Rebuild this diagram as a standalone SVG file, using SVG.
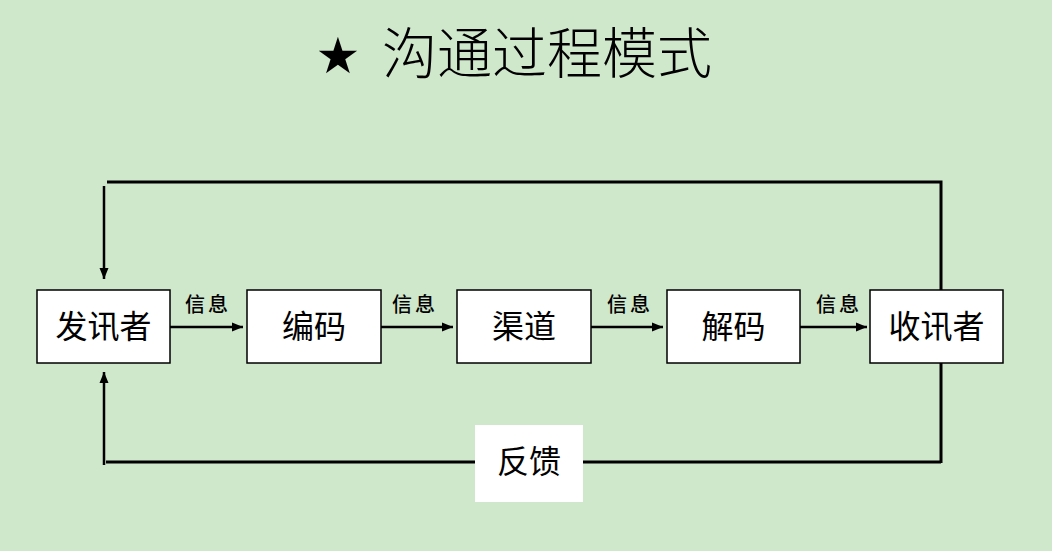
<svg xmlns="http://www.w3.org/2000/svg" width="1052" height="551" viewBox="0 0 1052 551">
<defs>
<marker id="ah" markerUnits="userSpaceOnUse" markerWidth="12" markerHeight="12" refX="11" refY="6" orient="auto">
<path d="M0,1.5 L11,6 L0,10.5 Z" fill="#000"/>
</marker>
<style>
.bg{fill:#cfe7cb}
.box{fill:#fff;stroke:#000;stroke-width:1.5}
.ln{stroke:#000;stroke-width:3;fill:none}
.ar{stroke:#000;stroke-width:2.5;fill:none;marker-end:url(#ah)}
.nt{font-family:"Noto Sans CJK SC",sans-serif;font-size:32px;text-anchor:middle;fill:#000}
.lb{font-family:"Noto Sans CJK SC",sans-serif;font-size:20px;font-weight:500;text-anchor:middle;fill:#000;letter-spacing:3px}
.tt{font-family:"Noto Sans CJK SC",sans-serif;font-size:55px;font-weight:300;fill:#000}
</style>
</defs>
<rect class="bg" x="0" y="0" width="1052" height="551"/>
<g id="title">
<text x="338" y="73" font-family="DejaVu Sans, sans-serif" font-size="50" text-anchor="middle">★</text>
<text class="tt" x="382" y="73" textLength="330">沟通过程模式</text>
</g>
<g id="connectors">
<path class="ln" d="M107,182 H941 V463"/>
<path class="ln" d="M106,462 H941"/>
<path class="ar" d="M104,186 V279"/>
<path class="ar" d="M104,465 V372"/>
<path class="ar" d="M170,327 H243"/>
<path class="ar" d="M381,327 H453"/>
<path class="ar" d="M591,327 H663"/>
<path class="ar" d="M800,327 H867"/>
<text class="lb" x="208" y="312">信息</text>
<text class="lb" x="415" y="312">信息</text>
<text class="lb" x="630" y="312">信息</text>
<text class="lb" x="839" y="312">信息</text>
</g>
<g id="sender"><rect class="box" x="37" y="290" width="133" height="73"/><text class="nt" x="103.5" y="338">发讯者</text></g>
<g id="encode"><rect class="box" x="247" y="290" width="134" height="73"/><text class="nt" x="314" y="338">编码</text></g>
<g id="channel"><rect class="box" x="457" y="290" width="134" height="73"/><text class="nt" x="524" y="338">渠道</text></g>
<g id="decode"><rect class="box" x="667" y="290" width="133" height="73"/><text class="nt" x="733.5" y="338">解码</text></g>
<g id="receiver"><rect class="box" x="870" y="290" width="133" height="73"/><text class="nt" x="936.5" y="338">收讯者</text></g>
<g id="feedback"><rect x="475" y="425" width="108" height="77" fill="#fff"/><text class="nt" x="529" y="473">反馈</text></g>
</svg>
